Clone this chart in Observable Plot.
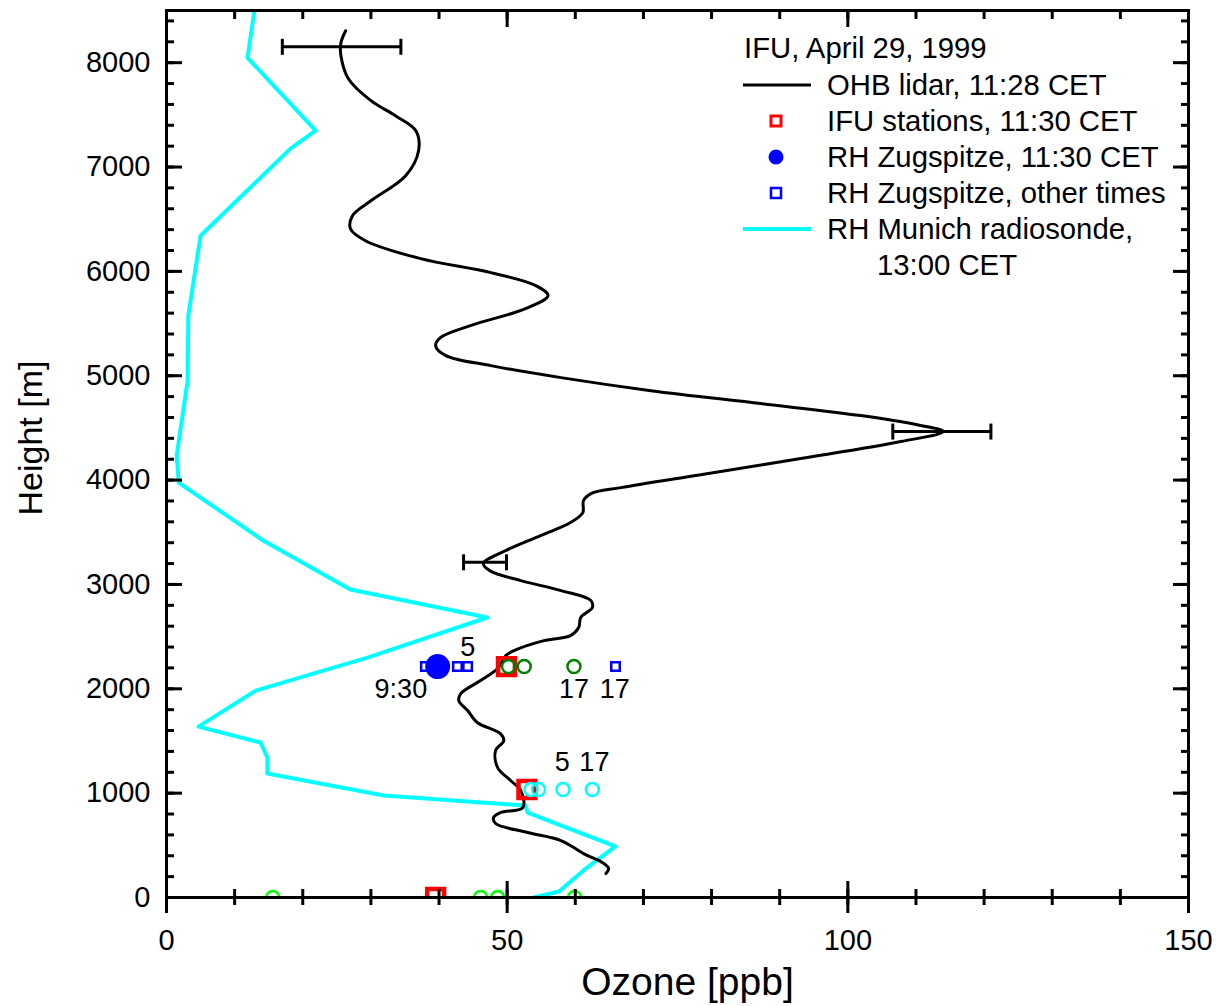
<!DOCTYPE html>
<html>
<head>
<meta charset="utf-8">
<script src="https://cdn.jsdelivr.net/npm/d3@7"></script>
<script src="https://cdn.jsdelivr.net/npm/@observablehq/plot@0.6"></script>
<style>
html, body { margin: 0; padding: 0; background: #fff; }
#chart { position: relative; width: 1217px; height: 1006px; font-family: "Liberation Sans", Arial, sans-serif; }
#chart svg { position: absolute; left: 0; top: 0; }
</style>
</head>
<body>
<div id="chart"></div>
<script>
// ---- OHB lidar profile, 11:28 CET (ozone ppb, height m) ----
const lidarOzone = [26.3,25.6,25.6,26.7,30.0,33.6,36.6,37.0,35.1,30.0,27.3,27.0,29.2,37.3,47.6,54.2,56.0,52.7,44.6,40.2,39.5,41.0,47.6,57.9,71.1,87.2,101.9,110.0,114.0,107.8,93.1,78.4,66.7,62.3,61.2,61.1,59.3,54.9,49.8,46.5,47.5,52.0,57.9,62.3,62.5,60.8,60.5,59.3,55.4,51.0,49.8,48.6,46.1,43.2,42.9,44.2,45.6,49.0,49.5,48.3,48.6,50.5,52.0,52.3,49.0,48.0,48.3,53.0,57.9,61.2,64.2,64.9,64.5];
const lidarHeight = [8306,8191,8067,7846,7636,7492,7348,7157,6917,6677,6534,6409,6294,6122,5988,5863,5767,5643,5480,5365,5288,5193,5097,4982,4857,4733,4618,4532,4465,4369,4206,4052,3928,3870,3803,3688,3593,3468,3325,3200,3130,3037,2941,2845,2778,2683,2587,2510,2462,2366,2318,2194,2079,1954,1887,1792,1677,1571,1504,1408,1245,1121,1025,862,814,766,709,623,546,421,326,278,230];

// ---- lidar error bars ----
const errHeight = [8152, 4465, 3212];
const errLow    = [17.0, 106.6, 43.6];
const errHigh   = [34.4, 121.0, 49.9];

// ---- RH Munich radiosonde, 13:00 CET ----
const sondeOzone  = [12.9,11.9,21.9,18.2,5.0,3.2,3.1,1.5,1.8,14.2,24.1,27.0,47.1,29.5,13.1,4.7,13.8,14.8,14.8,31.9,52.7,53.0,65.9,61.2,57.6,53.9];
const sondeHeight = [8500,8047,7348,7176,6342,5576,4953,4235,3976,3420,3056,2951,2683,2299,1983,1638,1485,1341,1188,977,881,814,489,259,57,0];

// ---- station values ----
const ifuOzone = [49.9, 52.9, 39.5];
const ifuHeight = [2213, 1035, 0];
const zugNowOzone = [39.8];
const zugNowHeight = [2213];
const zugOtherOzone = [38.0, 42.7, 44.2, 65.9];
const zugOtherHeight = [2213, 2213, 2213, 2213];
const greenOzone = [50.2, 52.5, 59.8];
const greenHeight = [2213, 2213, 2213];
const cyanOzone = [53.5, 54.6, 58.2, 62.5];
const cyanHeight = [1035, 1035, 1035, 1035];
const limeOzone = [15.6, 46.1, 48.6, 59.9];
const limeHeight = [0, 0, 0, 0];

// ---- time annotations ----
const noteText   = ["5", "9:30", "17", "17", "5", "17"];
const noteOzone  = [44.2, 34.4, 59.8, 65.8, 58.1, 62.8];
const noteHeight = [2400, 1990, 1990, 1990, 1298, 1298];

// ---- ticks ----
const xMajor = [0, 50, 100, 150];
const xMinor = d3.range(0, 151, 10);
const yMajor = d3.range(0, 8001, 1000);
const yMinor = d3.range(0, 8501, 200);

// ---- legend ----
const legendTitle = "IFU, April 29, 1999";
const legendLabels = ["OHB lidar, 11:28 CET", "IFU stations, 11:30 CET", "RH Zugspitze, 11:30 CET", "RH Zugspitze, other times", "RH Munich radiosonde,", "13:00 CET"];

const W = 1217, H = 1006;
const capSymbol = {draw(ctx, size) { const r = Math.sqrt(size / Math.PI); ctx.moveTo(0, -r); ctx.lineTo(0, r); }};
const tickOpts = {strokeWidth: 3, fill: "none", label: null};

const plot = Plot.plot({
  width: W, height: H,
  marginLeft: 166, marginRight: 29, marginTop: 10, marginBottom: 109,
  x: {domain: [0, 150]},
  y: {domain: [0, 8500]},
  style: {fontFamily: '"Liberation Sans", Arial, sans-serif', fontSize: "29px", color: "#000", background: "#fff", overflow: "visible"},
  marks: [
    Plot.line(sondeOzone, {x: sondeOzone, y: sondeHeight, stroke: "#00ffff", strokeWidth: 4, clip: true}),
    Plot.line(lidarOzone, {x: lidarOzone, y: lidarHeight, stroke: "#000", strokeWidth: 3, curve: "catmull-rom"}),
    Plot.ruleY(errHeight, {y: errHeight, x1: errLow, x2: errHigh, stroke: "#000", strokeWidth: 3}),
    Plot.dot(errHeight, {x: errLow, y: errHeight, symbol: capSymbol, r: 8, fill: "none", stroke: "#000", strokeWidth: 3}),
    Plot.dot(errHeight, {x: errHigh, y: errHeight, symbol: capSymbol, r: 8, fill: "none", stroke: "#000", strokeWidth: 3}),
    Plot.dot(ifuOzone, {x: ifuOzone, y: ifuHeight, symbol: "square", r: 9.5, fill: "none", stroke: "#ff0000", strokeWidth: 4.5, clip: true}),
    Plot.dot(zugOtherOzone, {x: zugOtherOzone, y: zugOtherHeight, symbol: "square", r: 4.8, fill: "none", stroke: "#0000ff", strokeWidth: 2.5}),
    Plot.dot(zugNowOzone, {x: zugNowOzone, y: zugNowHeight, r: 12.5, fill: "#0000ff", stroke: "none"}),
    Plot.dot(greenOzone, {x: greenOzone, y: greenHeight, r: 6.5, fill: "none", stroke: "#008000", strokeWidth: 2.5}),
    Plot.dot(cyanOzone, {x: cyanOzone, y: cyanHeight, r: 6.5, fill: "none", stroke: "#00ffff", strokeWidth: 2.5}),
    Plot.dot(limeOzone, {x: limeOzone, y: limeHeight, r: 6.5, fill: "none", stroke: "#00ff00", strokeWidth: 2.5, clip: true}),
    Plot.text(noteText, {x: noteOzone, y: noteHeight, text: noteText, fontSize: 27, fill: "#000"}),
    Plot.frame({stroke: "#000", strokeWidth: 3}),
    // bottom axis (ticks cross the axis line)
    Plot.axisX(xMajor, {anchor: "bottom", tickSize: 16, ...tickOpts}),
    Plot.axisX(xMajor, {anchor: "bottom", tickSize: -16, ...tickOpts}),
    Plot.axisX(xMinor, {anchor: "bottom", tickSize: 8, ...tickOpts}),
    Plot.axisX(xMinor, {anchor: "bottom", tickSize: -8, ...tickOpts}),
    Plot.axisX(xMajor, {anchor: "bottom", tickSize: 0, tickPadding: 32, label: null, tickFormat: "d", fill: "#000"}),
    // top axis (inward)
    Plot.axisX(xMajor, {anchor: "top", tickSize: -16, ...tickOpts}),
    Plot.axisX(xMinor, {anchor: "top", tickSize: -8, ...tickOpts}),
    // left axis (inward)
    Plot.axisY(yMajor, {anchor: "left", tickSize: -16, ...tickOpts}),
    Plot.axisY(yMinor, {anchor: "left", tickSize: -8, ...tickOpts}),
    Plot.axisY(yMajor, {anchor: "left", tickSize: 0, tickPadding: 16, label: null, tickFormat: "d", fill: "#000"}),
    // right axis (inward)
    Plot.axisY(yMajor, {anchor: "right", tickSize: -16, ...tickOpts}),
    Plot.axisY(yMinor, {anchor: "right", tickSize: -8, ...tickOpts}),
    // axis titles
    Plot.text(["Ozone [ppb]"], {frameAnchor: "bottom", textAnchor: "middle", lineAnchor: "middle", dx: 10, dy: 85, fontSize: 39, fill: "#000"}),
    Plot.text(["Height [m]"], {frameAnchor: "left", textAnchor: "middle", lineAnchor: "middle", rotate: -90, dx: -135, dy: -16, fontSize: 34, fill: "#000"})
  ]
});

const chart = document.getElementById("chart");
chart.appendChild(plot);

// ---- legend overlay (inside plot, upper right) ----
const lg = d3.create("svg")
  .attr("width", W).attr("height", H)
  .style("font-family", '"Liberation Sans", Arial, sans-serif')
  .style("font-size", "29.3px")
  .style("pointer-events", "none");
const lx = 743, sx = 776, tx = 827, row0 = 85, step = 36;
lg.append("text").attr("x", 744).attr("y", 58).text(legendTitle);
const rowY = i => row0 + i * step;
lg.append("line").attr("x1", lx).attr("x2", 811).attr("y1", rowY(0)).attr("y2", rowY(0)).attr("stroke", "#000").attr("stroke-width", 3);
lg.append("rect").attr("x", sx - 5).attr("y", rowY(1) - 5).attr("width", 10).attr("height", 10).attr("fill", "none").attr("stroke", "#ff0000").attr("stroke-width", 3);
lg.append("circle").attr("cx", sx).attr("cy", rowY(2)).attr("r", 7.5).attr("fill", "#0000ff");
lg.append("rect").attr("x", sx - 5).attr("y", rowY(3) - 5).attr("width", 10).attr("height", 10).attr("fill", "none").attr("stroke", "#0000ff").attr("stroke-width", 2.5);
lg.append("line").attr("x1", lx).attr("x2", 811).attr("y1", rowY(4)).attr("y2", rowY(4)).attr("stroke", "#00ffff").attr("stroke-width", 4);
legendLabels.forEach((t, i) => {
  lg.append("text").attr("x", i === 5 ? 877 : tx).attr("y", rowY(i) + 10).text(t);
});
chart.appendChild(lg.node());
</script>
</body>
</html>
